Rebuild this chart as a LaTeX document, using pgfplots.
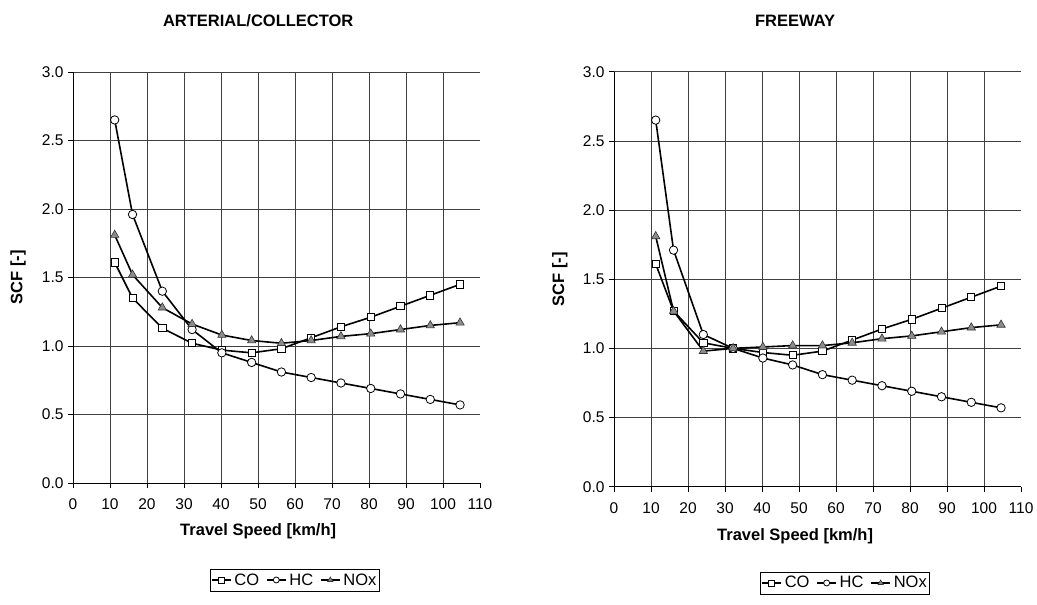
\documentclass[border=0pt]{standalone}
\usepackage{pgfplots}
\pgfplotsset{compat=1.18}
\usepackage{fontspec}
\setmainfont{Liberation Sans}

\pgfplotstableread{
x      CO    HC    NOx
11.27  1.61  2.65  1.81
16.09  1.35  1.96  1.52
24.14  1.13  1.40  1.28
32.19  1.02  1.12  1.16
40.23  0.97  0.95  1.08
48.28  0.95  0.88  1.04
56.33  0.98  0.81  1.02
64.37  1.06  0.77  1.04
72.42  1.14  0.73  1.07
80.47  1.21  0.69  1.09
88.51  1.29  0.65  1.12
96.56  1.37  0.61  1.15
104.61 1.45  0.57  1.17
}\arterial

\pgfplotstableread{
x      CO    HC    NOx
11.27  1.61  2.65  1.81
16.09  1.27  1.71  1.27
24.14  1.04  1.10  0.98
32.19  1.00  1.00  1.00
40.23  0.97  0.93  1.01
48.28  0.95  0.88  1.02
56.33  0.98  0.81  1.02
64.37  1.06  0.77  1.04
72.42  1.14  0.73  1.07
80.47  1.21  0.69  1.09
88.51  1.29  0.65  1.12
96.56  1.37  0.61  1.15
104.61 1.45  0.57  1.17
}\freeway

\pgfplotsset{
  scfstyle/.style={
    scale only axis,
    width=407bp,
    xmin=0, xmax=110, ymin=0, ymax=3,
    xtick={0,10,...,100},
    extra x ticks={110},
    extra tick style={grid=none},
    ytick={0,0.5,...,3.0},
    axis x line*=bottom,
    axis y line*=left,
    axis line style={black, line width=0.8bp, -},
    grid=major,
    major grid style={black!75, line width=0.7bp},
    tick align=outside,
    major tick length=5bp,
    tick style={black, line width=0.7bp},
    /pgf/number format/assume math mode=true,
    yticklabel style={/pgf/number format/fixed, /pgf/number format/fixed zerofill, /pgf/number format/precision=1, font=\fontsize{15.5bp}{18bp}\selectfont, xshift=-1bp},
    xticklabel style={font=\fontsize{15.5bp}{18bp}\selectfont, yshift=-7bp},
    title style={font=\fontsize{16.5bp}{19bp}\selectfont\bfseries, anchor=center},
    xlabel style={font=\fontsize{16.5bp}{19bp}\selectfont\bfseries, anchor=center},
    ylabel style={font=\fontsize{16.5bp}{19bp}\selectfont\bfseries, anchor=center},
    legend columns=3,
    legend style={font=\fontsize{16.5bp}{18bp}\selectfont, draw=black, line width=0.8bp, anchor=center, inner xsep=1bp, inner ysep=2.5bp, column sep=1bp, /tikz/every even column/.append style={column sep=5bp}},
    legend image code/.code={\draw[#1, line width=1.2bp] (0bp,0bp) -- (19bp,0bp); \draw[#1, only marks, mark size=3bp] plot coordinates {(9.5bp,0bp)};},
    every axis plot/.append style={black, line width=1.6bp},
  },
  coser/.style={mark=square*, mark size=3.6bp, mark options={fill=white, draw=black, line width=0.8bp}},
  hcser/.style={mark=*, mark size=4.2bp, mark options={fill=white, draw=black, line width=0.8bp}},
  noser/.style={mark=triangle*, mark size=4.8bp, mark options={fill=black!45, draw=black!80, line width=0.6bp}},
}

\begin{document}
\begin{tikzpicture}[x=1bp,y=1bp]
\path[use as bounding box] (0,0) rectangle (1037,605);

\begin{axis}[scfstyle, height=411bp,
  at={(73bp,122bp)}, anchor=south west,
  title={ARTERIAL/COLLECTOR},
  title style={at={(axis description cs:0.455,1.110)}},
  xlabel={Travel Speed [km/h]},
  xlabel style={at={(axis description cs:0.455,-0.117)}},
  ylabel={SCF [-]},
  ylabel style={at={(axis description cs:-0.135,0.5)}},
  legend style={at={(axis description cs:0.545,-0.236)}},
]
\addplot[coser] table[x=x,y=CO] {\arterial};
\addlegendentry{CO}
\addplot[hcser] table[x=x,y=HC] {\arterial};
\addlegendentry{HC}
\addplot[noser] table[x=x,y=NOx] {\arterial};
\addlegendentry{NOx}
\end{axis}

\begin{axis}[scfstyle, height=415bp,
  at={(614bp,118.3bp)}, anchor=south west,
  title={FREEWAY},
  title style={at={(axis description cs:0.445,1.108)}},
  xlabel={Travel Speed [km/h]},
  xlabel style={at={(axis description cs:0.445,-0.119)}},
  ylabel={SCF [-]},
  ylabel style={at={(axis description cs:-0.133,0.5)}},
  legend style={at={(axis description cs:0.568,-0.232)}},
]
\addplot[coser] table[x=x,y=CO] {\freeway};
\addlegendentry{CO}
\addplot[hcser] table[x=x,y=HC] {\freeway};
\addlegendentry{HC}
\addplot[noser] table[x=x,y=NOx] {\freeway};
\addlegendentry{NOx}
\end{axis}
\end{tikzpicture}
\end{document}
